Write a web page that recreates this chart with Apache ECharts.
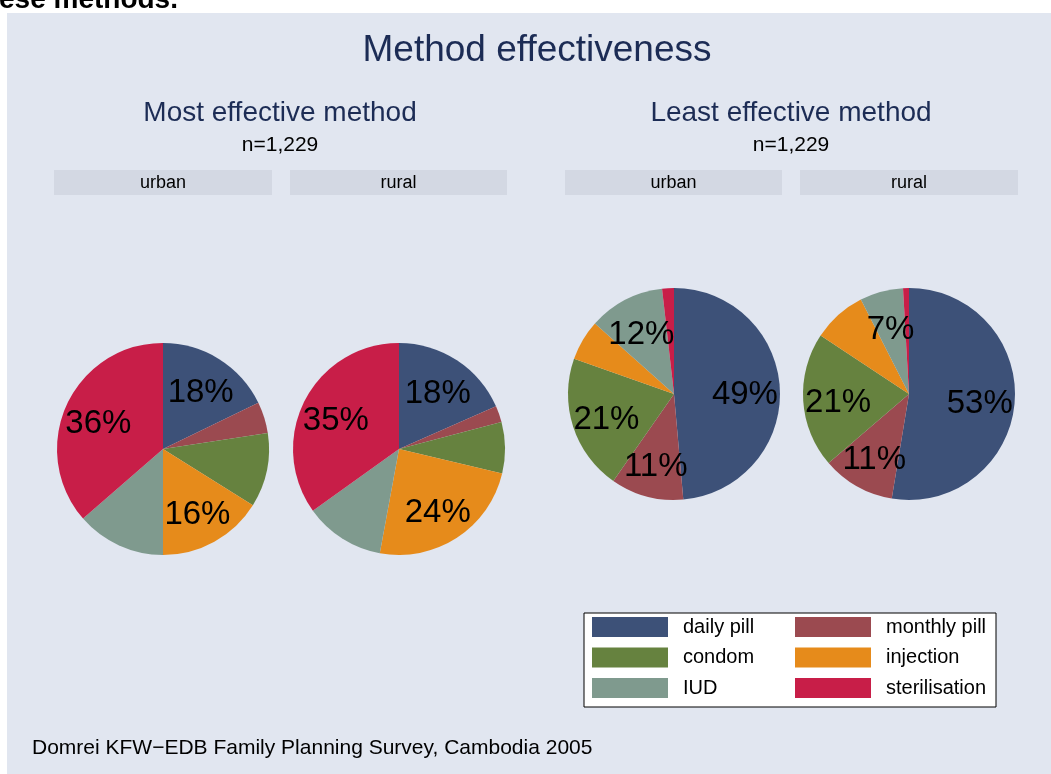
<!DOCTYPE html>
<html>
<head>
<meta charset="utf-8">
<title>Method effectiveness</title>
<script src="https://cdn.jsdelivr.net/npm/echarts@6/dist/echarts.min.js"></script>
<style>
  html, body { margin: 0; padding: 0; background: #ffffff; }
  #chart { width: 1051px; height: 774px; }
</style>
</head>
<body>
<div id="chart"></div>
<script>
// Contraceptive methods, in slice order (clockwise from 12 o'clock)
const methods = ['daily pill', 'monthly pill', 'condom', 'injection', 'IUD', 'sterilisation'];
const methodColors = ['#3d5178', '#9b4a50', '#66823f', '#e68b1b', '#7f9a8e', '#c81e48'];

// Share of respondents (%) naming each method
const mostUrban  = [17.8, 4.8, 11.3, 16.1, 13.6, 36.4];
const mostRural  = [18.4, 2.5, 7.8, 24.2, 12.2, 34.9];
const leastUrban = [48.6, 11.1, 20.7, 6.2, 11.6, 1.8];
const leastRural = [52.6, 11.1, 20.6, 8.2, 6.6, 0.9];

// Slices that carry a percentage label in each group
const labelledMost  = ['daily pill', 'injection', 'sterilisation'];
const labelledLeast = ['daily pill', 'monthly pill', 'condom', 'IUD'];

const groupTitles = ['Most effective method', 'Least effective method'];
const sampleNote = 'n=1,229';
const areaLabels = ['urban', 'rural'];
const sourceNote = 'Domrei KFW\u2212EDB Family Planning Survey, Cambodia 2005';

const FONT = '"Liberation Sans", Arial, Helvetica, sans-serif';
const NAVY = '#1c2c55';

// panel layout: pie centre per facet
const R = 106;
const panels = [
  { values: mostUrban,  labelled: labelledMost,  cx: 163, cy: 449 },
  { values: mostRural,  labelled: labelledMost,  cx: 399, cy: 449 },
  { values: leastUrban, labelled: labelledLeast, cx: 674, cy: 394 },
  { values: leastRural, labelled: labelledLeast, cx: 909, cy: 394 }
];

function toData(values) {
  return methods.map((m, i) => ({ name: m, value: values[i], itemStyle: { color: methodColors[i] } }));
}

const series = [];
// filled pies
panels.forEach(p => {
  series.push({
    type: 'pie',
    center: [p.cx, p.cy],
    radius: [0, R],
    startAngle: 90,
    clockwise: true,
    silent: true,
    animation: false,
    label: { show: false },
    labelLine: { show: false },
    itemStyle: { borderWidth: 0 },
    data: toData(p.values)
  });
});
// percentage labels, placed part-way out along each slice
panels.forEach(p => {
  series.push({
    type: 'pie',
    center: [p.cx, p.cy],
    radius: [30, R],
    startAngle: 90,
    clockwise: true,
    silent: true,
    animation: false,
    avoidLabelOverlap: false,
    itemStyle: { color: 'rgba(0,0,0,0)', borderWidth: 0 },
    label: {
      show: true,
      position: 'inside',
      color: '#000000',
      fontFamily: FONT,
      fontSize: 33,
      offset: [0, 4],
      formatter: params => p.labelled.indexOf(params.name) >= 0 ? Math.round(params.value) + '%' : ''
    },
    labelLine: { show: false },
    data: methods.map((m, i) => ({ name: m, value: p.values[i] }))
  });
});

// facet header strips
const strips = [
  { x: 54, w: 218, label: areaLabels[0] },
  { x: 290, w: 217, label: areaLabels[1] },
  { x: 565, w: 217, label: areaLabels[0] },
  { x: 800, w: 218, label: areaLabels[1] }
];
const graphics = [
  { type: 'rect', shape: { x: 7, y: 13, width: 1044, height: 761 }, style: { fill: '#e1e6f0' }, z: -10 },
  { type: 'text', x: -1, y: -14, style: { text: 'ese methods.', font: 'bold 28px ' + FONT, fill: '#000000', textAlign: 'left', textVerticalAlign: 'top' } },
  { type: 'rect', shape: { x: 584, y: 613, width: 412, height: 94 }, style: { fill: '#ffffff', stroke: '#000000', lineWidth: 1 }, z: -5 }
];
strips.forEach(s => {
  graphics.push({ type: 'rect', shape: { x: s.x, y: 170, width: s.w, height: 25 }, style: { fill: '#d3d8e3' }, z: -4 });
  graphics.push({ type: 'text', x: s.x + s.w / 2, y: 183, style: { text: s.label, font: '18px ' + FONT, fill: '#000000', textAlign: 'center', textVerticalAlign: 'middle' } });
});

const chart = echarts.init(document.getElementById('chart'), null, { renderer: 'canvas' });
chart.setOption({
  backgroundColor: 'transparent',
  animation: false,
  title: [
    { text: 'Method effectiveness', left: 537, top: 32, textAlign: 'center', padding: 0,
      textStyle: { fontFamily: FONT, fontSize: 37, fontWeight: 'normal', color: NAVY } },
    { text: groupTitles[0], left: 280, top: 99, textAlign: 'center', padding: 0,
      textStyle: { fontFamily: FONT, fontSize: 28, fontWeight: 'normal', color: NAVY } },
    { text: sampleNote, left: 280, top: 135, textAlign: 'center', padding: 0,
      textStyle: { fontFamily: FONT, fontSize: 21, fontWeight: 'normal', color: '#000000' } },
    { text: groupTitles[1], left: 791, top: 99, textAlign: 'center', padding: 0,
      textStyle: { fontFamily: FONT, fontSize: 28, fontWeight: 'normal', color: NAVY } },
    { text: sampleNote, left: 791, top: 135, textAlign: 'center', padding: 0,
      textStyle: { fontFamily: FONT, fontSize: 21, fontWeight: 'normal', color: '#000000' } },
    { text: sourceNote, left: 32, top: 738, padding: 0,
      textStyle: { fontFamily: FONT, fontSize: 21, fontWeight: 'normal', color: '#000000' } }
  ],
  legend: [
    { data: [methods[0], methods[2], methods[4]], orient: 'vertical', left: 592, top: 617, padding: 0,
      itemWidth: 76, itemHeight: 20, itemGap: 10.5, icon: 'rect', selectedMode: false,
      textStyle: { fontFamily: FONT, fontSize: 20, color: '#000000', padding: [0, 0, 0, 10] } },
    { data: [methods[1], methods[3], methods[5]], orient: 'vertical', left: 795, top: 617, padding: 0,
      itemWidth: 76, itemHeight: 20, itemGap: 10.5, icon: 'rect', selectedMode: false,
      textStyle: { fontFamily: FONT, fontSize: 20, color: '#000000', padding: [0, 0, 0, 10] } }
  ],
  graphic: graphics,
  series: series
});
</script>
</body>
</html>
